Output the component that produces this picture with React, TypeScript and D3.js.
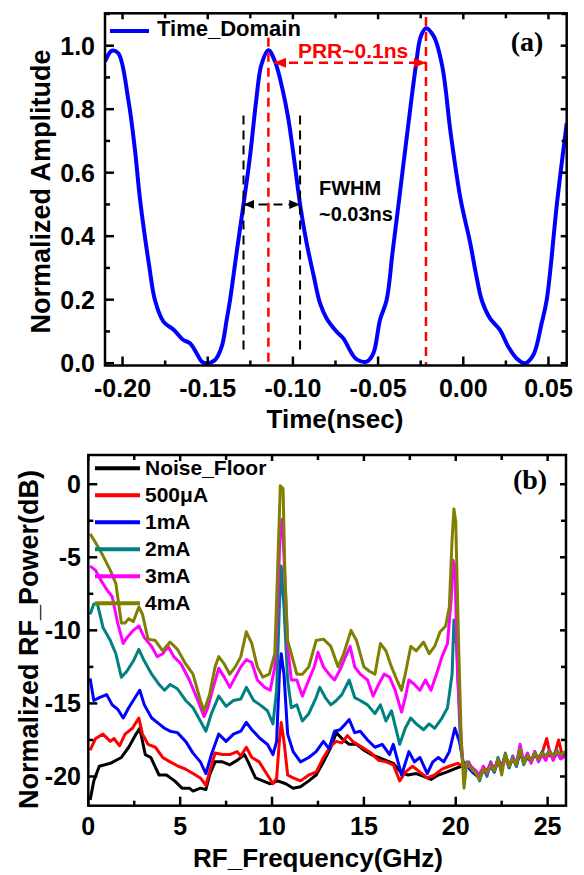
import React from 'react';
import * as d3 from 'd3';

const FONT = '"Liberation Sans", Arial, sans-serif';
const SERIF = '"Liberation Serif", "Times New Roman", serif';

// ---- panel (a): time domain ----
const timeTicks = [-0.2, -0.15, -0.1, -0.05, 0, 0.05];
const timeTickLabels = ['-0.20', '-0.15', '-0.10', '-0.05', '0.00', '0.05'];
const ampTicks = [0, 0.2, 0.4, 0.6, 0.8, 1.0];
const ampTickLabels = ['0.0', '0.2', '0.4', '0.6', '0.8', '1.0'];

const timeDomain: [number, number][] = [
  [-0.2103, 0.95], [-0.2063, 0.984], [-0.2025, 0.976], [-0.1966, 0.829], [-0.1927, 0.671],
  [-0.1897, 0.514], [-0.1843, 0.304], [-0.181, 0.199], [-0.176, 0.131], [-0.17, 0.105],
  [-0.1643, 0.073], [-0.1604, 0.063], [-0.1565, 0.031], [-0.1535, 0.005], [-0.1506, 0.0],
  [-0.1457, 0.01], [-0.1418, 0.052], [-0.1389, 0.136], [-0.1369, 0.199], [-0.133, 0.35],
  [-0.129, 0.5], [-0.125, 0.66], [-0.1215, 0.83], [-0.1185, 0.94], [-0.1144, 0.986],
  [-0.1105, 0.95], [-0.106, 0.86], [-0.1027, 0.77], [-0.099, 0.63], [-0.0958, 0.5],
  [-0.092, 0.38], [-0.088, 0.28], [-0.0841, 0.189], [-0.0802, 0.141], [-0.0743, 0.099],
  [-0.0704, 0.078], [-0.0655, 0.031], [-0.0626, 0.012], [-0.0567, 0.005], [-0.0528, 0.031],
  [-0.0489, 0.136], [-0.045, 0.199], [-0.0415, 0.35], [-0.0377, 0.514], [-0.0329, 0.724],
  [-0.0279, 0.934], [-0.025, 1.028], [-0.0219, 1.055], [-0.0172, 1.028], [-0.0123, 0.934],
  [-0.0074, 0.724], [-0.0015, 0.514], [0.004, 0.38], [0.0075, 0.28], [0.0108, 0.199],
  [0.0157, 0.141], [0.0215, 0.105], [0.0264, 0.052], [0.0313, 0.015], [0.0362, 0.0],
  [0.0411, 0.026], [0.046, 0.126], [0.049, 0.2], [0.0552, 0.514], [0.0607, 0.756],
];

// ---- panel (b): RF spectrum ----
const freqTicks = [0, 5, 10, 15, 20, 25];
const dbTicks = [0, -5, -10, -15, -20];

// tails above 20.5 GHz, where all traces sit on the noise floor
const blackTail: [number, number][] = [
  [20.7, -19.2], [20.9, -19.5], [21.1, -19.8], [21.3, -19.9], [21.5, -19.5], [21.7, -19.7],
  [21.9, -19.2], [22.1, -19.6], [22.3, -18.9], [22.5, -19.3], [22.7, -18.6], [22.9, -19.2],
  [23.1, -18.8], [23.3, -19.2], [23.5, -18.3], [23.7, -19.0], [23.9, -18.6], [24.1, -18.9],
  [24.3, -18.5], [24.5, -18.8], [24.7, -18.4], [24.9, -18.7], [25.1, -18.3], [25.3, -18.7],
  [25.5, -18.4], [25.7, -18.6], [26.0, -18.4],
];
const redTail: [number, number][] = [
  [20.7, -19.3], [20.9, -19.4], [21.1, -19.9], [21.3, -19.8], [21.5, -19.4], [21.7, -19.6],
  [21.9, -19.1], [22.1, -19.5], [22.3, -18.9], [22.5, -19.3], [22.7, -18.6], [22.9, -19.2],
  [23.1, -18.8], [23.3, -19.1], [23.5, -18.4], [23.7, -19.0], [23.9, -18.5], [24.1, -18.9],
  [24.3, -18.5], [24.5, -18.7], [24.7, -18.4], [24.95, -17.4], [25.15, -18.6], [25.4, -18.4],
  [25.6, -17.5], [25.8, -18.6], [26.0, -18.4],
];
const blueTail: [number, number][] = [
  [20.7, -19.4], [20.9, -19.7], [21.1, -19.9], [21.3, -20.1], [21.5, -19.6], [21.7, -19.8],
  [21.9, -19.3], [22.1, -19.7], [22.3, -18.8], [22.5, -19.5], [22.7, -18.6], [22.9, -19.4],
  [23.1, -18.7], [23.3, -19.3], [23.5, -18.2], [23.7, -19.1], [23.9, -18.7], [24.1, -19.0],
  [24.3, -18.4], [24.5, -18.9], [24.7, -18.5], [24.9, -18.6], [25.1, -18.3], [25.3, -18.8],
  [25.5, -18.4], [25.7, -18.6], [26.0, -18.5],
];
const tealTail: [number, number][] = [
  [20.7, -19.0], [20.9, -19.6], [21.1, -19.7], [21.3, -20.3], [21.5, -19.4], [21.7, -20.0],
  [21.9, -19.0], [22.1, -19.7], [22.3, -18.7], [22.5, -19.5], [22.7, -18.4], [22.9, -19.4],
  [23.1, -18.6], [23.3, -19.3], [23.5, -18.2], [23.7, -19.2], [23.9, -18.5], [24.1, -19.0],
  [24.3, -18.3], [24.5, -18.9], [24.7, -18.3], [24.9, -18.7], [25.1, -18.2], [25.3, -18.8],
  [25.5, -18.2], [25.7, -18.6], [26.0, -18.3],
];
const magentaTail: [number, number][] = [
  [20.7, -19.1], [20.9, -19.4], [21.1, -19.6], [21.3, -20.0], [21.5, -19.3], [21.7, -19.8],
  [21.9, -19.1], [22.1, -19.5], [22.3, -18.9], [22.5, -19.4], [22.7, -18.6], [22.9, -19.3],
  [23.1, -18.7], [23.3, -19.1], [23.5, -17.8], [23.7, -19.0], [23.9, -18.4], [24.1, -19.1],
  [24.3, -18.3], [24.5, -19.0], [24.7, -18.5], [24.9, -18.9], [25.1, -18.2], [25.3, -18.9],
  [25.5, -18.3], [25.7, -18.8], [26.0, -18.6],
];
const oliveTail: [number, number][] = [
  [20.7, -19.3], [20.9, -19.5], [21.1, -19.8], [21.3, -20.2], [21.5, -19.5], [21.7, -19.7],
  [21.9, -19.3], [22.1, -19.6], [22.3, -18.8], [22.5, -19.9], [22.7, -18.5], [22.9, -19.3],
  [23.1, -18.8], [23.3, -19.2], [23.5, -18.1], [23.7, -19.1], [23.9, -18.6], [24.1, -18.9],
  [24.3, -18.4], [24.5, -18.8], [24.7, -18.4], [24.9, -18.6], [25.1, -18.3], [25.3, -18.6],
  [25.5, -18.3], [25.7, -18.5], [26.0, -18.3],
];

const noiseFloor: [number, number][] = [
  [0.1, -21.6], [0.3, -20.3], [0.6, -19.3], [1.2, -19.1], [1.8, -18.7], [2.2, -18.0], [2.6, -17.1],
  [2.8, -16.7], [3.1, -18.5], [3.4, -18.7], [3.85, -19.9], [4.25, -19.9], [4.7, -20.3], [5.1, -20.8],
  [5.5, -20.8], [5.7, -21.0], [6.1, -20.8], [6.4, -20.9], [6.6, -19.9], [6.9, -19.0], [7.3, -19.0],
  [7.7, -19.2], [8.1, -18.9], [8.5, -18.5], [8.7, -19.0], [9.1, -20.1], [9.5, -20.3], [9.9, -20.5],
  [10.3, -20.3], [10.75, -20.5], [11.15, -20.8], [11.55, -20.7], [12.0, -20.3], [12.4, -19.9],
  [12.8, -19.0], [13.2, -18.0], [13.5, -17.0], [13.8, -17.4], [14.2, -17.8], [14.6, -17.8],
  [15.0, -18.2], [15.4, -18.5], [15.8, -18.7], [16.2, -18.9], [16.6, -19.1], [17.0, -19.7],
  [17.4, -19.9], [17.85, -19.8], [18.25, -20.0], [18.65, -20.2], [19.05, -19.9], [19.5, -19.7],
  [19.9, -19.5], [20.3, -19.3], [20.5, -19.4], ...blackTail,
];

const current500uA: [number, number][] = [
  [0.1, -18.2], [0.4, -17.4], [0.8, -17.1], [1.2, -17.6], [1.4, -17.4], [1.7, -17.9], [2.0, -17.1],
  [2.4, -16.7], [2.75, -16.0], [2.95, -17.1], [3.25, -17.8], [3.65, -18.0], [4.05, -18.7],
  [4.45, -19.0], [4.9, -19.3], [5.3, -19.5], [5.7, -19.8], [6.1, -20.1], [6.4, -20.6], [6.6, -19.7],
  [6.9, -18.4], [7.3, -18.5], [7.7, -18.5], [8.1, -18.3], [8.3, -18.6], [8.6, -18.0], [8.9, -18.7],
  [9.3, -19.0], [9.75, -19.9], [10.05, -20.5], [10.25, -20.1], [10.4, -17.6], [10.5, -16.3],
  [10.65, -17.6], [10.85, -19.9], [11.15, -20.1], [11.55, -20.3], [12.0, -19.9], [12.4, -19.7],
  [12.8, -18.7], [13.2, -17.9], [13.5, -17.6], [13.8, -17.7], [14.1, -17.2], [14.4, -17.6],
  [14.9, -18.0], [15.4, -18.4], [15.8, -18.9], [16.2, -19.0], [16.6, -19.2], [16.95, -20.3],
  [17.25, -19.7], [17.65, -19.3], [18.05, -19.7], [18.45, -20.1], [18.85, -19.9], [19.25, -19.5],
  [19.65, -19.3], [20.1, -19.1], [20.4, -19.3], ...redTail,
];

const current1mA: [number, number][] = [
  [0.1, -13.3], [0.3, -14.8], [0.6, -14.6], [1.0, -14.4], [1.3, -15.1], [1.6, -15.4], [1.9, -16.0],
  [2.2, -15.3], [2.55, -14.6], [2.8, -14.1], [3.05, -15.1], [3.45, -16.0], [3.85, -16.4],
  [4.15, -16.7], [4.45, -16.9], [4.85, -17.0], [5.3, -17.6], [5.7, -18.4], [6.1, -19.0], [6.4, -19.8],
  [6.7, -18.5], [7.1, -17.1], [7.5, -17.6], [7.9, -17.1], [8.3, -16.9], [8.6, -16.3], [8.9, -16.8],
  [9.35, -17.4], [9.75, -17.8], [10.05, -18.5], [10.25, -17.6], [10.4, -13.0], [10.5, -11.6],
  [10.65, -13.0], [10.85, -17.1], [11.15, -18.3], [11.55, -19.0], [12.0, -18.7], [12.4, -18.3],
  [12.8, -17.6], [13.1, -18.1], [13.4, -16.9], [13.7, -16.8], [14.0, -16.4], [14.2, -16.1],
  [14.5, -17.0], [14.8, -16.9], [15.2, -17.5], [15.6, -18.0], [16.0, -17.8], [16.4, -18.5],
  [16.6, -17.8], [17.05, -19.9], [17.45, -18.3], [17.75, -19.0], [18.05, -18.7], [18.45, -19.8],
  [18.75, -19.0], [19.05, -18.7], [19.35, -19.0], [19.65, -18.3], [19.95, -16.7], [20.2, -17.6],
  [20.4, -19.0], ...blueTail,
];

const current2mA: [number, number][] = [
  [0.1, -8.9], [0.3, -8.2], [0.5, -8.2], [0.8, -9.8], [1.2, -10.7], [1.5, -11.6], [1.8, -13.2],
  [2.1, -12.8], [2.45, -12.1], [2.75, -11.3], [3.05, -12.1], [3.45, -13.0], [3.85, -13.7],
  [4.15, -14.1], [4.45, -13.7], [4.85, -14.0], [5.3, -14.8], [5.7, -15.3], [6.1, -16.2], [6.4, -16.9],
  [6.7, -15.7], [7.1, -14.5], [7.5, -15.2], [7.9, -14.8], [8.3, -14.7], [8.6, -13.9], [9.0, -14.8],
  [9.35, -15.1], [9.75, -15.5], [10.05, -16.4], [10.25, -14.1], [10.4, -8.4], [10.5, -5.6],
  [10.65, -8.4], [10.85, -13.4], [11.05, -15.3], [11.35, -15.1], [11.65, -16.2], [12.0, -15.7],
  [12.4, -14.6], [12.6, -13.9], [12.9, -14.6], [13.2, -15.1], [13.5, -14.8], [13.8, -14.4],
  [14.2, -13.4], [14.5, -14.6], [14.8, -14.8], [15.2, -15.1], [15.6, -15.7], [15.9, -15.1],
  [16.2, -16.2], [16.5, -15.5], [16.95, -17.8], [17.25, -16.7], [17.55, -16.0], [17.85, -16.4],
  [18.25, -16.8], [18.55, -16.4], [18.85, -16.7], [19.25, -16.0], [19.55, -15.3], [19.8, -13.0],
  [19.9, -9.3], [20.05, -11.1], [20.25, -17.6], [20.4, -19.3], ...tealTail,
];

const current3mA: [number, number][] = [
  [0.1, -5.6], [0.4, -5.9], [0.7, -6.6], [1.0, -7.2], [1.3, -7.7], [1.6, -9.5], [1.9, -10.9],
  [2.1, -10.5], [2.45, -10.0], [2.75, -9.7], [3.05, -10.5], [3.45, -11.1], [3.75, -11.8],
  [4.05, -11.6], [4.35, -11.1], [4.65, -11.8], [5.05, -12.3], [5.5, -13.4], [5.9, -14.6],
  [6.3, -15.9], [6.5, -15.3], [6.8, -13.9], [7.1, -12.6], [7.4, -13.2], [7.7, -13.9], [8.0, -13.2],
  [8.3, -12.5], [8.6, -12.0], [8.9, -12.2], [9.2, -13.4], [9.6, -13.9], [9.9, -14.1], [10.15, -12.5],
  [10.3, -8.4], [10.45, -2.9], [10.55, -2.4], [10.65, -4.9], [10.85, -11.1], [11.05, -13.4],
  [11.35, -13.4], [11.65, -14.5], [12.0, -13.4], [12.3, -12.5], [12.5, -11.5], [12.8, -12.5],
  [13.1, -13.0], [13.4, -13.4], [13.7, -12.7], [14.0, -11.8], [14.25, -11.1], [14.5, -12.5],
  [14.8, -13.0], [15.2, -13.4], [15.5, -14.5], [15.8, -13.7], [16.1, -13.0], [16.4, -13.2],
  [16.7, -14.1], [17.05, -15.6], [17.25, -14.6], [17.45, -13.4], [17.75, -13.7], [18.05, -14.1],
  [18.35, -13.4], [18.65, -14.1], [18.95, -13.0], [19.25, -11.8], [19.55, -10.9], [19.75, -7.9],
  [19.85, -5.2], [19.95, -5.6], [20.1, -13.0], [20.3, -17.6], [20.4, -19.3], ...magentaTail,
];

const current4mA: [number, number][] = [
  [0.1, -3.4], [0.4, -4.0], [0.8, -4.9], [1.2, -5.9], [1.5, -6.8], [1.8, -9.5], [2.0, -9.5],
  [2.2, -9.2], [2.45, -9.4], [2.75, -8.4], [2.95, -8.9], [3.25, -10.6], [3.65, -10.7], [4.05, -11.4],
  [4.45, -10.8], [4.85, -11.3], [5.3, -12.3], [5.7, -13.0], [6.1, -14.8], [6.3, -15.5], [6.6, -14.4],
  [6.9, -12.5], [7.1, -11.8], [7.4, -12.3], [7.7, -13.0], [8.0, -12.5], [8.3, -11.8], [8.6, -10.1],
  [8.9, -10.9], [9.2, -12.5], [9.5, -13.2], [9.85, -13.0], [10.15, -11.6], [10.3, -6.1],
  [10.45, -0.1], [10.6, -0.3], [10.7, -6.1], [10.85, -10.7], [11.05, -11.6], [11.35, -13.0],
  [11.65, -13.0], [12.0, -12.5], [12.4, -10.7], [12.8, -10.6], [13.2, -11.1], [13.6, -12.5],
  [13.9, -11.6], [14.3, -10.0], [14.6, -10.7], [15.0, -12.5], [15.3, -12.8], [15.6, -13.0],
  [15.9, -10.9], [16.2, -11.4], [16.5, -12.5], [16.8, -13.4], [17.05, -14.1], [17.25, -13.0],
  [17.55, -11.1], [17.85, -11.4], [18.25, -10.8], [18.55, -11.6], [18.85, -11.1], [19.15, -10.1],
  [19.45, -9.7], [19.65, -8.4], [19.8, -3.8], [19.9, -1.7], [20.0, -2.6], [20.15, -10.7],
  [20.3, -17.6], [20.45, -20.8], [20.6, -19.0], ...oliveTail,
];

const seriesNames = ['Noise_Floor', '500\u03BCA', '1mA', '2mA', '3mA', '4mA'];
const seriesColors = ['#000000', '#ff0000', '#0000ff', '#008080', '#ff00ff', '#808000'];
const seriesData = [noiseFloor, current500uA, current1mA, current2mA, current3mA, current4mA];

const W = 584;
const H = 875;

function range(a: number, b: number, step: number) {
  const out: number[] = [];
  for (let v = a; v <= b + 1e-9; v += step) out.push(+v.toFixed(4));
  return out;
}

function Frame({ x, y, minorX, minorY, majorX, majorY }: any) {
  const [x0, x1] = x.range();
  const [y0, y1] = y.range();
  const ticks: JSX.Element[] = [];
  majorX.forEach((v: number, i: number) => {
    const px = x(v);
    ticks.push(<line key={'bx' + i} x1={px} x2={px} y1={y0} y2={y0 - 9} />);
    ticks.push(<line key={'tx' + i} x1={px} x2={px} y1={y1} y2={y1 + 6} />);
  });
  minorX.forEach((v: number, i: number) => {
    const px = x(v);
    ticks.push(<line key={'bmx' + i} x1={px} x2={px} y1={y0} y2={y0 - 5} />);
    ticks.push(<line key={'tmx' + i} x1={px} x2={px} y1={y1} y2={y1 + 5} />);
  });
  majorY.forEach((v: number, i: number) => {
    const py = y(v);
    ticks.push(<line key={'ly' + i} x1={x0} x2={x0 + 9} y1={py} y2={py} />);
    ticks.push(<line key={'ry' + i} x1={x1} x2={x1 - 6} y1={py} y2={py} />);
  });
  minorY.forEach((v: number, i: number) => {
    const py = y(v);
    ticks.push(<line key={'lmy' + i} x1={x0} x2={x0 + 5} y1={py} y2={py} />);
    ticks.push(<line key={'rmy' + i} x1={x1} x2={x1 - 5} y1={py} y2={py} />);
  });
  return (
    <g stroke="#000" strokeWidth={2.5} fill="none">
      {ticks}
      <rect x={x0} y={y1} width={x1 - x0} height={y0 - y1} />
    </g>
  );
}

export default function App() {
  // panel (a) scales
  const xa = d3.scaleLinear().domain([-0.2103, 0.0607]).range([105, 566.7]);
  const ya = d3.scaleLinear().domain([-0.0073, 1.102]).range([365.5, 13.3]);
  const lineA = d3.line<[number, number]>()
    .x(d => xa(d[0])).y(d => ya(d[1]))
    .curve(d3.curveCatmullRom.alpha(0.5));

  // panel (b) scales
  const xb = d3.scaleLinear().domain([0, 26]).range([88.3, 566]);
  const yb = d3.scaleLinear().domain([-22, 2]).range([805.7, 455]);
  const lineB = d3.line<[number, number]>().x(d => xb(d[0])).y(d => yb(d[1]));

  const prrLeft = -0.1144;
  const prrRight = -0.0219;
  const fwhmLeft = -0.129;
  const fwhmRight = -0.0958;

  return (
    <svg width={W} height={H} style={{ position: 'absolute', left: 0, top: 0, background: '#fff' }}
      fontFamily={FONT}>
      <defs>
        <clipPath id="clipA"><rect x={105} y={13.3} width={461.7} height={352.2} /></clipPath>
        <clipPath id="clipB"><rect x={88.3} y={455} width={477.7} height={350.7} /></clipPath>
        <marker id="arrRed" viewBox="0 0 12 10" refX={12} refY={5} markerWidth={12} markerHeight={10}
          markerUnits="userSpaceOnUse" orient="auto-start-reverse">
          <path d="M0,0 L12,5 L0,10 Z" fill="#ff0000" />
        </marker>
        <marker id="arrBlack" viewBox="0 0 12 10" refX={12} refY={5} markerWidth={11} markerHeight={9}
          markerUnits="userSpaceOnUse" orient="auto-start-reverse">
          <path d="M0,0 L12,5 L0,10 Z" fill="#000" />
        </marker>
      </defs>

      {/* ===== panel (a) ===== */}
      <g clipPath="url(#clipA)">
        <path d={lineA(timeDomain) || ''} fill="none" stroke="#0000ff" strokeWidth={4} strokeLinejoin="round" />
      </g>
      {/* FWHM markers */}
      <g stroke="#000" strokeWidth={2} strokeDasharray="9,6">
        <line x1={xa(fwhmLeft)} x2={xa(fwhmLeft)} y1={ya(0.78)} y2={ya(0.03)} />
        <line x1={xa(fwhmRight)} x2={xa(fwhmRight)} y1={ya(0.78)} y2={ya(0.03)} />
        <line x1={xa(fwhmLeft)} x2={xa(fwhmRight)} y1={ya(0.5)} y2={ya(0.5)}
          markerStart="url(#arrBlack)" markerEnd="url(#arrBlack)" />
      </g>
      {/* PRR markers */}
      <g stroke="#ff0000" strokeWidth={2.5} strokeDasharray="9,6">
        <line x1={xa(prrLeft)} x2={xa(prrLeft)} y1={ya(1.025)} y2={ya(-0.007)} />
        <line x1={xa(prrRight)} x2={xa(prrRight)} y1={ya(1.09)} y2={ya(-0.007)} />
        <line x1={xa(-0.1111)} x2={xa(prrRight)} y1={ya(0.946)} y2={ya(0.946)}
          markerStart="url(#arrRed)" markerEnd="url(#arrRed)" />
      </g>
      <text x={xa(-0.0647)} y={ya(0.961)} textAnchor="middle" fontSize={21} fontWeight="bold" fill="#ff0000">PRR~0.1ns</text>
      <text x={xa(-0.0847)} y={ya(0.53)} fontSize={20} fontWeight="bold">FWHM</text>
      <text x={xa(-0.0847)} y={ya(0.448)} fontSize={20} fontWeight="bold">~0.03ns</text>

      <Frame x={xa} y={ya}
        majorX={timeTicks} minorX={range(-0.175, 0.05, 0.05)}
        majorY={ampTicks} minorY={range(0.1, 1.1, 0.2)} />
      {timeTicks.map((v, i) => (
        <text key={'xa' + i} x={xa(v)} y={397} textAnchor="middle" fontSize={25} fontWeight="bold">{timeTickLabels[i]}</text>
      ))}
      {ampTicks.map((v, i) => (
        <text key={'ya' + i} x={95} y={ya(v)} dy="0.36em" textAnchor="end" fontSize={25} fontWeight="bold">{ampTickLabels[i]}</text>
      ))}
      <text x={335} y={428} textAnchor="middle" fontSize={26} fontWeight="bold">Time(nsec)</text>
      <text transform="translate(50,191.5) rotate(-90)" textAnchor="middle" fontSize={27} fontWeight="bold">Normalized Amplitude</text>
      <line x1={110} x2={149} y1={31} y2={31} stroke="#0000ff" strokeWidth={4} />
      <text x={157} y={36} fontSize={22} fontWeight="bold">Time_Domain</text>
      <text x={527} y={51} textAnchor="middle" fontFamily={SERIF} fontSize={28} fontWeight="bold">(a)</text>

      {/* ===== panel (b) ===== */}
      <g clipPath="url(#clipB)">
        {seriesData.map((s, i) => (
          <path key={'s' + i} d={lineB(s) || ''} fill="none" stroke={seriesColors[i]} strokeWidth={3} strokeLinejoin="round" />
        ))}
      </g>
      {seriesNames.map((name, i) => {
        const ly = 468.3 + i * 27;
        return (
          <g key={'lg' + i}>
            <line x1={95} x2={140} y1={ly} y2={ly} stroke={seriesColors[i]} strokeWidth={4} />
            <text x={145} y={ly + 7} fontSize={21} fontWeight="bold">{name}</text>
          </g>
        );
      })}
      <Frame x={xb} y={yb}
        majorX={freqTicks} minorX={range(2.5, 25, 5)}
        majorY={dbTicks} minorY={range(-22.5, 0, 5).filter(v => v > -22)} />
      {freqTicks.map((v, i) => (
        <text key={'xb' + i} x={xb(v)} y={835} textAnchor="middle" fontSize={25} fontWeight="bold">{v}</text>
      ))}
      {dbTicks.map((v, i) => (
        <text key={'yb' + i} x={81} y={yb(v)} dy="0.36em" textAnchor="end" fontSize={25} fontWeight="bold">{v}</text>
      ))}
      <text x={318} y={867} textAnchor="middle" fontSize={26} fontWeight="bold">RF_Frequency(GHz)</text>
      <text transform="translate(38,639.5) rotate(-90)" textAnchor="middle" fontSize={27} fontWeight="bold">Normalized RF_Power(dB)</text>
      <text x={530} y={489} textAnchor="middle" fontFamily={SERIF} fontSize={28} fontWeight="bold">(b)</text>
    </svg>
  );
}
